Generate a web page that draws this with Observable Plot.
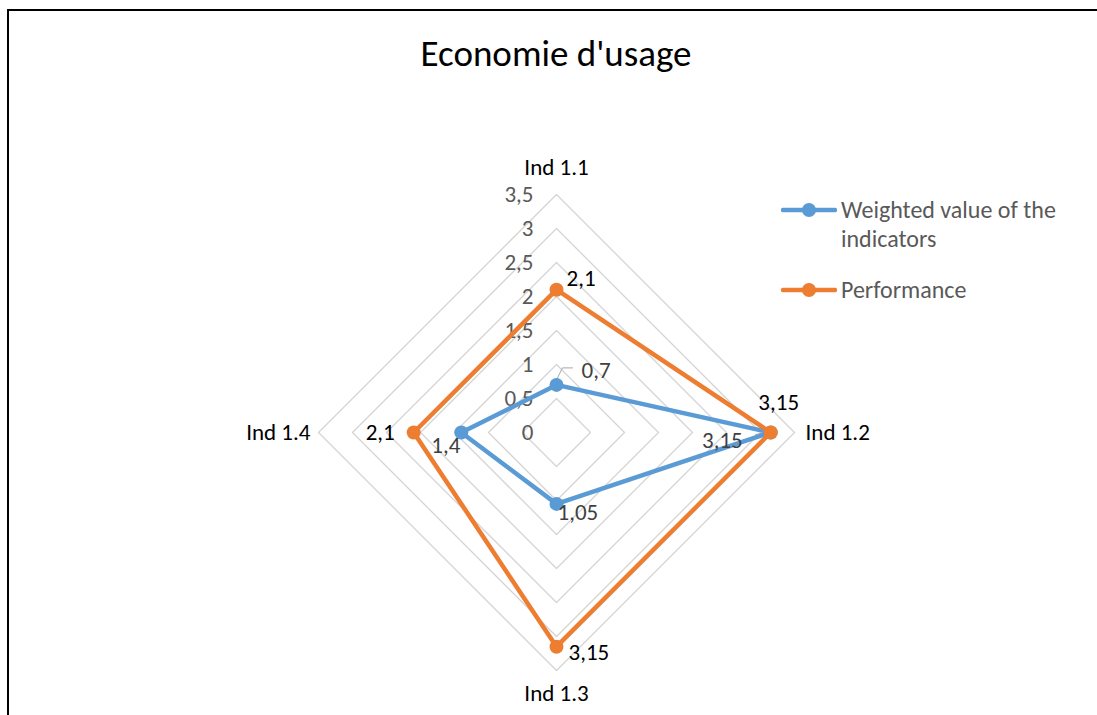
<!DOCTYPE html>
<html>
<head>
<meta charset="utf-8">
<script src="https://cdn.jsdelivr.net/npm/d3@7"></script>
<script src="https://cdn.jsdelivr.net/npm/@observablehq/plot@0.6"></script>
<style>
  html, body { margin: 0; padding: 0; background: #fff; }
  #wrap { position: relative; width: 1097px; height: 715px; overflow: hidden; font-family: Carlito, Lato, "Open Sans", sans-serif; }
  #frameTop { position: absolute; left: 7px; top: 9px; width: 1100px; height: 2px; background: #000; }
  #frameLeft { position: absolute; left: 7px; top: 9px; width: 2px; height: 720px; background: #000; }
  #title { position: absolute; left: 0; width: 1112px; top: 31px; text-align: center; font-size: 37px; color: #000; }
  #legend { position: absolute; left: 781px; top: 195px; font-size: 24px; color: #595959; line-height: 29px; }
  .item { position: relative; padding-left: 60px; margin-bottom: 22px; white-space: nowrap; }
  .item svg { position: absolute; left: 0; top: 7px; }
  #chart { position: absolute; left: 0; top: 0; }
</style>
</head>
<body>
<div id="wrap">
  <div id="chart"></div>
  <div id="frameTop"></div>
  <div id="frameLeft"></div>
  <div id="title">Economie d'usage</div>
  <div id="legend"></div>
</div>
<script>
// ---- data ----
const indicators = ["Ind 1.1", "Ind 1.2", "Ind 1.3", "Ind 1.4"];
const weighted = [0.7, 3.15, 1.05, 1.4];
const performance = [2.1, 3.15, 3.15, 2.1];
const seriesNames = ["Weighted value of the indicators", "Performance"];
const ticks = [0, 0.5, 1, 1.5, 2, 2.5, 3, 3.5];
const tickLabels = ["0", "0,5", "1", "1,5", "2", "2,5", "3", "3,5"];
const valueLabels = {
  weighted: ["0,7", "3,15", "1,05", "1,4"],
  performance: ["2,1", "3,15", "3,15", "2,1"]
};

// ---- layout / style ----
const W = 1097, H = 715;
const cx = 556, cy = 432, k = 68; // pixels per unit
const rMax = 3.5;
const colors = ["#5b9bd5", "#ed7d31"];
const font = 'Carlito, Lato, "Open Sans", sans-serif';
const fs = 23;

const angle = i => (i / indicators.length) * 2 * Math.PI;
const px = (v, i) => v * Math.sin(angle(i));
const py = (v, i) => v * Math.cos(angle(i));

// grid diamonds
const grid = [];
ticks.filter(t => t > 0).forEach(t => {
  for (let j = 0; j <= indicators.length; j++) {
    const i = j % indicators.length;
    grid.push({t, x: px(t, i), y: py(t, i)});
  }
});

function poly(vals, name) {
  const out = [];
  for (let j = 0; j <= vals.length; j++) {
    const i = j % vals.length;
    out.push({name, x: px(vals[i], i), y: py(vals[i], i)});
  }
  return out;
}
const blueLine = poly(weighted, seriesNames[0]);
const orangeLine = poly(performance, seriesNames[1]);
const bluePts = weighted.map((v, i) => ({v, i, x: px(v, i), y: py(v, i), label: valueLabels.weighted[i]}));
const orangePts = performance.map((v, i) => ({v, i, x: px(v, i), y: py(v, i), label: valueLabels.performance[i]}));

// label placements (pixels)
const orangePlace = [
  {dx: 10, dy: -11, a: "start"},
  {dx: 8, dy: -30, a: "middle"},
  {dx: 12, dy: 6, a: "start"},
  {dx: -19, dy: 0, a: "end"}
];
const bluePlace = [
  {dx: 25, dy: -14, a: "start"},
  {dx: -28, dy: 8, a: "end"},
  {dx: 1, dy: 9, a: "start"},
  {dx: -1, dy: 13, a: "end"}
];
const axisPlace = [
  {dx: 0, dy: -27, a: "middle"},
  {dx: 11, dy: 0, a: "start"},
  {dx: 0, dy: 23, a: "middle"},
  {dx: -8, dy: 0, a: "end"}
];

const marks = [];
// grid
marks.push(Plot.line(grid, {x: "x", y: "y", z: "t", stroke: "#d4d4d4", strokeWidth: 1.3}));
// tick labels
marks.push(Plot.text(ticks.map((t, j) => ({x: 0, y: t, label: tickLabels[j]})), {
  x: "x", y: "y", text: "label", textAnchor: "end", dx: -23, fill: "#595959", fontSize: fs, fontFamily: font
}));
// axis labels
indicators.forEach((name, i) => {
  const p = axisPlace[i];
  marks.push(Plot.text([{x: px(rMax, i), y: py(rMax, i), name}], {
    x: "x", y: "y", text: "name", dx: p.dx, dy: p.dy, textAnchor: p.a, fill: "#000", fontSize: fs, fontFamily: font
  }));
});
// leader line for 0,7 (blue, Ind 1.1)
const lp = bluePts[0];
marks.push(Plot.line([
  {x: lp.x, y: lp.y + 5 / k},
  {x: lp.x + 6 / k, y: lp.y + 17 / k},
  {x: lp.x + 16 / k, y: lp.y + 17 / k}
], {x: "x", y: "y", stroke: "#a6a6a6", strokeWidth: 1}));
// leader line for blue 3,15
const lp2 = bluePts[1];
marks.push(Plot.line([
  {x: lp2.x - 15 / k, y: lp2.y - 2 / k},
  {x: lp2.x - 4 / k, y: lp2.y}
], {x: "x", y: "y", stroke: "#a6a6a6", strokeWidth: 1}));
// series
marks.push(Plot.line(blueLine, {x: "x", y: "y", stroke: colors[0], strokeWidth: 4.5, strokeLinejoin: "round"}));
marks.push(Plot.dot(bluePts, {x: "x", y: "y", r: 7, fill: colors[0]}));
marks.push(Plot.line(orangeLine, {x: "x", y: "y", stroke: colors[1], strokeWidth: 4.5, strokeLinejoin: "round"}));
marks.push(Plot.dot(orangePts, {x: "x", y: "y", r: 7, fill: colors[1]}));
// value labels
bluePts.forEach((d, i) => {
  const p = bluePlace[i];
  marks.push(Plot.text([d], {x: "x", y: "y", text: "label", dx: p.dx, dy: p.dy, textAnchor: p.a, fill: "#404040", fontSize: fs, fontFamily: font}));
});
orangePts.forEach((d, i) => {
  const p = orangePlace[i];
  marks.push(Plot.text([d], {x: "x", y: "y", text: "label", dx: p.dx, dy: p.dy, textAnchor: p.a, fill: "#000", fontSize: fs, fontFamily: font}));
});

const chart = Plot.plot({
  width: W, height: H,
  margin: 0,
  x: {domain: [-cx / k, (W - cx) / k], axis: null},
  y: {domain: [-(H - cy) / k, cy / k], axis: null},
  style: {background: "transparent", fontFamily: font},
  marks
});
document.getElementById("chart").appendChild(chart);

// legend
const legend = document.getElementById("legend");
seriesNames.forEach((name, i) => {
  const div = document.createElement("div");
  div.className = "item";
  div.innerHTML = `<svg width="56" height="16"><line x1="2" y1="8" x2="54" y2="8" stroke="${colors[i]}" stroke-width="4.5" stroke-linecap="round"/><circle cx="28" cy="8" r="7" fill="${colors[i]}"/></svg>`;
  const span = document.createElement("span");
  span.textContent = i === 0 ? "Weighted value of the" : name;
  div.appendChild(span);
  if (i === 0) {
    div.appendChild(document.createElement("br"));
    div.appendChild(document.createTextNode("indicators"));
  }
  legend.appendChild(div);
});
</script>
</body>
</html>
